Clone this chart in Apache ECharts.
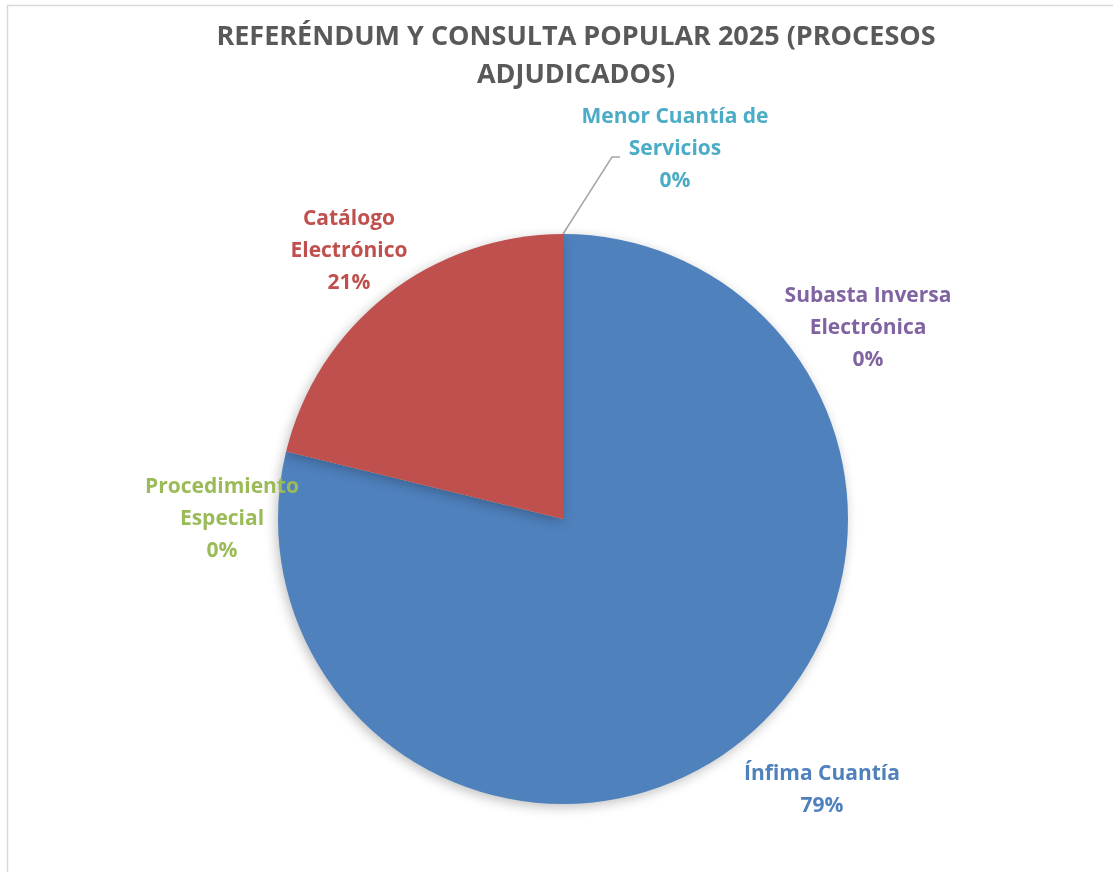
<!DOCTYPE html>
<html>
<head>
<meta charset="utf-8">
<script src="https://cdn.jsdelivr.net/npm/echarts@6/dist/echarts.min.js"></script>
<style>
  html, body { margin: 0; padding: 0; background: #fff; }
  #chart { width: 1113px; height: 872px; }
</style>
</head>
<body>
<div id="chart"></div>
<script>
// data (order = slice order, clockwise from 12 o'clock)
var categories = ['Subasta Inversa Electrónica', 'Ínfima Cuantía', 'Procedimiento Especial', 'Catálogo Electrónico', 'Menor Cuantía de Servicios'];
var labelNames = ['Subasta Inversa\nElectrónica', 'Ínfima Cuantía', 'Procedimiento\nEspecial', 'Catálogo\nElectrónico', 'Menor Cuantía de\nServicios'];
var values = [0, 78.8, 0, 21.2, 0];
var colors = ['#8064A2', '#4F81BD', '#9BBB59', '#C0504D', '#4BACC6'];

// where the labels sit (centre of each label block)
var labelSpots = [[868, 328], [822, 790], [222, 519], [349, 251], [675, 149]];

var chart = echarts.init(document.getElementById('chart'));

var seriesData = categories.map(function (name, i) {
  return {
    name: name,
    value: values[i],
    itemStyle: { color: colors[i] },
    label: { color: colors[i] },
    labelLine: { show: i === 4 }
  };
});

var option = {
  animation: false,
  title: {
    text: 'REFERÉNDUM Y CONSULTA POPULAR 2025 (PROCESOS\nADJUDICADOS)',
    left: 571,
    top: 13,
    textAlign: 'center',
    textStyle: {
      fontFamily: 'Open Sans',
      fontWeight: 'bold',
      fontSize: 27,
      lineHeight: 38,
      color: '#595959'
    }
  },
  graphic: [{
    type: 'rect',
    shape: { x: 7.5, y: 5.5, width: 1300, height: 1000 },
    style: { fill: 'none', stroke: '#d9d9d9', lineWidth: 1.5 },
    silent: true
  }],
  series: [{
    type: 'pie',
    center: [563, 519],
    radius: 285,
    startAngle: 90,
    clockwise: true,
    data: seriesData,
    itemStyle: {
      borderWidth: 0,
      shadowBlur: 12,
      shadowColor: 'rgba(0,0,0,0.25)',
      shadowOffsetX: -2,
      shadowOffsetY: 3
    },
    label: {
      show: true,
      position: 'outside',
      fontFamily: 'Open Sans',
      fontWeight: 'bold',
      fontSize: 21,
      lineHeight: 32,
      align: 'center',
      formatter: function (p) {
        return labelNames[p.dataIndex] + '\n' + Math.round(p.percent) + '%';
      }
    },
    labelLine: {
      lineStyle: { color: '#a6a6a6', width: 1.5 }
    },
    labelLayout: function (p) {
      var s = labelSpots[p.dataIndex];
      var out = { x: s[0], y: s[1], align: 'center', verticalAlign: 'middle' };
      if (p.dataIndex === 4) {
        out.labelLinePoints = [[563, 234], [612, 157], [620, 157]];
      }
      return out;
    }
  }]
};

chart.setOption(option);
</script>
</body>
</html>
